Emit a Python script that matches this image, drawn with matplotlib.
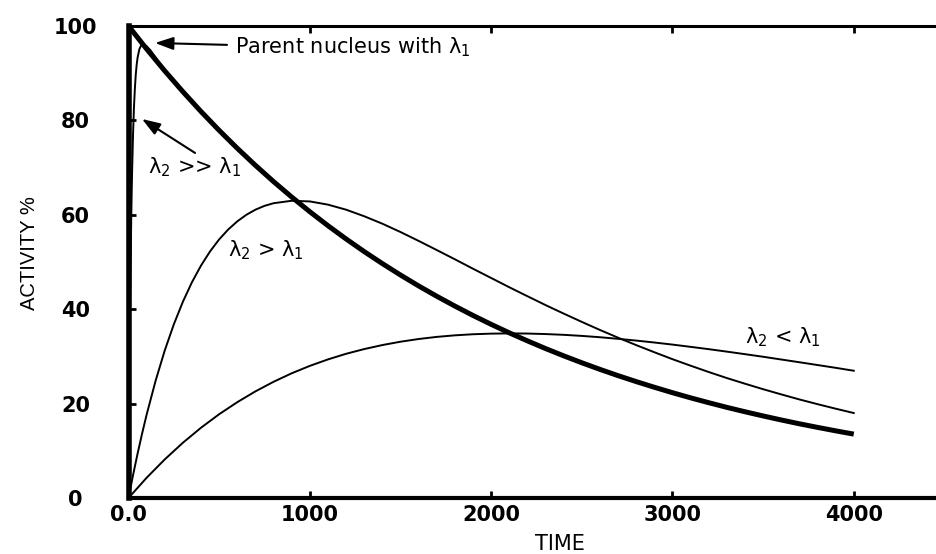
import matplotlib.pyplot as plt

# time axis for the parent and the lambda2 < lambda1 curve
time = [0, 100, 200, 300, 400, 500, 600, 700, 800, 900,
        1000, 1100, 1200, 1300, 1400, 1500, 1600, 1700, 1800, 1900,
        2000, 2100, 2200, 2300, 2400, 2500, 2600, 2700, 2800, 2900,
        3000, 3100, 3200, 3300, 3400, 3500, 3600, 3700, 3800, 3900, 4000]

parent = [100.0, 95.12, 90.48, 86.07, 81.87, 77.88, 74.08, 70.47, 67.03, 63.76,
          60.65, 57.69, 54.88, 52.20, 49.66, 47.24, 44.93, 42.74, 40.66, 38.67,
          36.79, 34.99, 33.29, 31.66, 30.12, 28.65, 27.25, 25.92, 24.66, 23.46,
          22.31, 21.22, 20.19, 19.20, 18.27, 17.38, 16.53, 15.72, 14.96, 14.23, 13.53]

# lambda2 < lambda1
daughter_lt = [0.0, 4.29, 8.18, 11.71, 14.89, 17.75, 20.30, 22.59, 24.62, 26.42,
               27.99, 29.36, 30.55, 31.55, 32.40, 33.11, 33.68, 34.13, 34.46, 34.69,
               34.82, 34.87, 34.84, 34.73, 34.57, 34.34, 34.06, 33.72, 33.35, 32.94,
               32.50, 32.02, 31.53, 31.01, 30.47, 29.92, 29.34, 28.76, 28.17, 27.58, 26.96]

# lambda2 > lambda1 (denser at the start where it bends)
gt_time = [0, 25, 50, 75, 100, 150, 200, 250, 300, 350, 400, 450, 500, 550,
           600, 650, 700, 750, 800, 900,
           1000, 1100, 1200, 1300, 1400, 1500, 1600, 1700, 1800, 1900,
           2000, 2100, 2200, 2300, 2400, 2500, 2600, 2700, 2800, 2900,
           3000, 3100, 3200, 3300, 3400, 3500, 3600, 3700, 3800, 3900, 4000]
daughter_gt = [0.0, 4.85, 9.40, 13.66, 17.67, 24.92, 31.27, 36.80, 41.59, 45.72,
               49.25, 52.26, 54.79, 56.89, 58.61, 60.00, 61.08, 61.89, 62.45, 62.97,
               62.83, 62.15, 61.08, 59.69, 58.11, 56.35, 54.47, 52.53, 50.57, 48.57,
               46.61, 44.65, 42.75, 40.87, 39.07, 37.31, 35.60, 33.96, 32.39, 30.88,
               29.41, 28.03, 26.69, 25.41, 24.21, 23.05, 21.95, 20.88, 19.88, 18.92, 18.0]

# lambda2 >> lambda1 (only the steep start, then it sits on the parent curve)
fast_time = [0, 2.5, 5, 7.5, 10, 12.5, 15, 17.5, 20, 25, 30, 35, 40, 45, 50,
             60, 70, 80, 90, 100, 120, 150, 200]
daughter_fast = [0.0, 13.9, 25.9, 36.2, 45.0, 52.6, 59.1, 64.7, 69.5, 77.1,
                 82.7, 86.7, 89.7, 91.8, 93.3, 95.1, 95.9, 96.1, 95.9, 95.7,
                 94.9, 93.3, 90.5]

xticks = [0, 1000, 2000, 3000, 4000]
xtick_labels = ['0.0', '1000', '2000', '3000', '4000']
yticks = [0, 20, 40, 60, 80, 100]


def main():
    fig = plt.figure(figsize=(9.36, 5.54), dpi=100)
    ax = fig.add_axes([0.1373, 0.1011, 0.8717, 0.852])

    ax.plot(time, daughter_lt, color='black', lw=1.4)
    ax.plot(gt_time, daughter_gt, color='black', lw=1.4)
    ax.plot(fast_time, daughter_fast, color='black', lw=1.4)
    ax.plot(time, parent, color='black', lw=3.6, solid_capstyle='butt')

    ax.set_xlim(0, 4500)
    ax.set_ylim(0, 100)

    ax.set_xticks(xticks)
    ax.set_xticklabels(xtick_labels)
    ax.set_yticks(yticks)
    ax.tick_params(direction='in', length=5, width=2, top=True, right=False,
                   labelsize=15)
    ax.tick_params(axis='x', pad=5)
    ax.tick_params(axis='y', pad=38)
    for lab in ax.get_xticklabels() + ax.get_yticklabels():
        lab.set_fontweight('bold')
    for lab in ax.get_yticklabels():
        lab.set_horizontalalignment('center')

    ax.spines['left'].set_linewidth(4)
    ax.spines['bottom'].set_linewidth(3)
    ax.spines['top'].set_linewidth(2.2)
    ax.spines['right'].set_visible(False)

    ax.set_xlabel('TIME', fontsize=15)
    ax.xaxis.set_label_coords(0.529, -0.076)
    ax.set_ylabel('ACTIVITY %', fontsize=14.5, family='Liberation Sans')
    ax.yaxis.set_label_coords(-0.11, 0.519)

    arrow = dict(arrowstyle='-|>,head_length=1.0,head_width=0.35',
                 color='black', lw=1.5, mutation_scale=11,
                 shrinkA=0, shrinkB=0)
    ax.annotate('', xy=(146, 96.4), xytext=(543, 96.0), arrowprops=arrow)
    ax.text(587, 95.4, 'Parent nucleus with λ$_1$', fontsize=15,
            ha='left', va='center')

    ax.annotate('', xy=(74, 80.3), xytext=(367, 73.1), arrowprops=arrow)
    ax.text(362, 70.0, 'λ$_2$ >> λ$_1$', fontsize=15, ha='center', va='center')
    ax.text(760, 52.5, 'λ$_2$ > λ$_1$', fontsize=15, ha='center', va='center')
    ax.text(3610, 34.1, 'λ$_2$ < λ$_1$', fontsize=15, ha='center', va='center')

    fig.savefig('out.png', dpi=100)


if __name__ == "__main__":
    main()
